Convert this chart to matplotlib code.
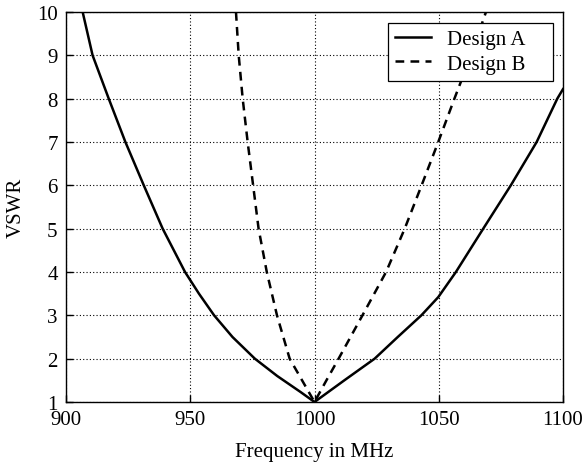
import matplotlib
matplotlib.use("Agg")
import matplotlib.pyplot as plt

# Design A (solid)
freq_a = [906.7, 910.7, 917.2, 923.9, 931.3, 938.9, 947.9, 953.5, 959.6, 967.0, 976.0,
          985.0, 994.4, 1000.0, 1012.0, 1024.2, 1033.5, 1043.0, 1049.8, 1056.9,
          1067.9, 1079.0, 1089.4, 1097.7, 1100.0]
vswr_a = [10.0, 9.0, 8.0, 7.0, 6.0, 5.0, 4.0, 3.5, 3.0, 2.5, 2.0,
          1.6, 1.23, 1.0, 1.5, 2.0, 2.5, 3.0, 3.42, 4.0,
          5.0, 6.0, 7.0, 8.0, 8.22]

# Design B (dashed)
freq_b = [968.4, 969.5, 971.1, 973.1, 975.3, 977.5, 980.8, 984.9, 990.0, 995.0, 1000.0,
          1004.8, 1009.7, 1019.3, 1028.8, 1036.3, 1043.1, 1049.8, 1056.3, 1063.0, 1069.0]
vswr_b = [10.0, 9.0, 8.0, 7.0, 6.0, 5.0, 4.0, 3.0, 2.0, 1.5, 1.0,
          1.5, 2.0, 3.0, 4.0, 5.0, 6.0, 7.0, 8.0, 9.0, 10.0]

xticks = [900, 950, 1000, 1050, 1100]
yticks = [1, 2, 3, 4, 5, 6, 7, 8, 9, 10]

plt.rcParams['font.family'] = ['Liberation Serif', 'DejaVu Serif']
plt.rcParams['font.size'] = 15

fig = plt.figure(figsize=(5.83, 4.64), dpi=100)
ax = fig.add_axes([66/583, 1 - 403/464, (563-66)/583, (403-13)/464])

ax.plot(freq_a, vswr_a, color='black', lw=1.8, ls='-', label='Design A    ', solid_joinstyle='round')
ax.plot(freq_b, vswr_b, color='black', lw=1.8, ls=(0, (3.5, 2.5)), label='Design B    ')

ax.set_xlim(900, 1100)
ax.set_ylim(1, 10)
ax.set_xticks(xticks)
ax.set_yticks(yticks)
ax.grid(True, color='black', ls=(0, (1, 2)), lw=0.8)
ax.tick_params(direction='in', length=5, width=1, labelsize=15)
ax.tick_params(axis='x', pad=6)
ax.tick_params(axis='y', pad=6)
for s in ax.spines.values():
    s.set_linewidth(1.0)

ax.set_xlabel('Frequency in MHz', fontsize=15, labelpad=9)
ax.set_ylabel('VSWR', fontsize=15, labelpad=8)

leg = ax.legend(loc='upper right', bbox_to_anchor=((553-66)/497, (403-24)/390),
                borderaxespad=0, fontsize=15,
                fancybox=False, framealpha=1, edgecolor='black', handlelength=1.75,
                borderpad=0.33, labelspacing=0.22, handletextpad=0.75)
leg.get_frame().set_linewidth(0.9)

fig.savefig('out.png', dpi=100)
